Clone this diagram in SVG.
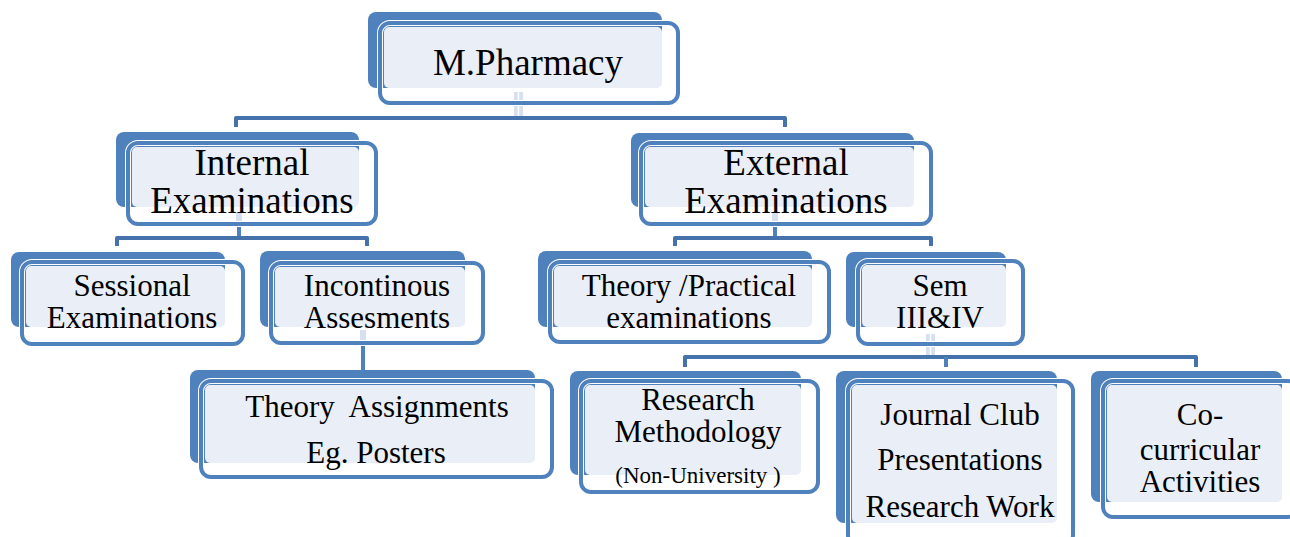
<svg xmlns="http://www.w3.org/2000/svg" width="1290" height="537" viewBox="0 0 1290 537">
  <style>
    .back { fill: #4F81BD; }
    .face { fill: #EAEFF7; }
    .halo { fill: none; stroke: #FFFFFF; stroke-width: 6; }
    .edge { fill: none; stroke: #4F81BD; stroke-width: 4; }
    .bus { fill: none; stroke: #4672AC; stroke-width: 4; stroke-linejoin: round; }
    .stem { fill: none; stroke: #4F81BD; stroke-width: 4; }
    .pale { fill: #D6E0EE; }
    .gap { stroke: #FFFFFF; stroke-width: 1.5; }
    text { font-family: "Liberation Serif", "Times New Roman", serif; fill: #000000; text-anchor: middle; }
    .t1 { font-size: 37px; }
    .t2 { font-size: 31px; }
    .t3 { font-size: 23px; }
  </style>

  <!-- connectors -->
  <g id="connectors">
    <!-- M.Pharmacy to level 1 -->
    <rect class="pale" x="514" y="92" width="9" height="28"/>
    <line class="gap" x1="518.5" y1="92" x2="518.5" y2="120"/>
    <path class="bus" d="M236,127 V118 H785 V127"/>
    <!-- Internal Examinations -->
    <rect class="pale" x="236" y="212" width="6" height="13"/>
    <line class="stem" x1="239" y1="225" x2="239" y2="238"/>
    <path class="bus" d="M117,246 V238 H367 V246"/>
    <!-- External Examinations -->
    <rect class="pale" x="772" y="212" width="6" height="13"/>
    <line class="stem" x1="775" y1="225" x2="775" y2="238"/>
    <path class="bus" d="M675,246 V238 H931 V246"/>
    <!-- Incontinous Assesments -->
    <rect class="pale" x="360" y="330" width="6" height="14"/>
    <line class="stem" x1="363" y1="344" x2="363" y2="371"/>
    <!-- Sem III&IV -->
    <rect class="pale" x="926" y="334" width="9" height="25"/>
    <line class="gap" x1="930.5" y1="334" x2="930.5" y2="359"/>
    <path class="bus" d="M685,367 V357 H1196 V367"/>
    <line class="stem" x1="946" y1="357" x2="946" y2="367"/>
  </g>

  <!-- level 0 -->
  <g id="m-pharmacy">
    <rect class="back" x="368" y="12" width="294" height="76" rx="8"/>
    <rect class="face" x="384" y="27" width="278" height="61" rx="5"/>
    <rect class="halo" x="380" y="23" width="298" height="80" rx="10"/>
    <rect class="edge" x="380" y="23" width="298" height="80" rx="10"/>
    <text class="t1" x="528" y="75">M.Pharmacy</text>
  </g>

  <!-- level 1 -->
  <g id="internal-examinations">
    <rect class="back" x="116" y="132" width="243" height="75" rx="8"/>
    <rect class="face" x="132" y="147" width="227" height="60" rx="5"/>
    <rect class="halo" x="128" y="143" width="248" height="81" rx="10"/>
    <rect class="edge" x="128" y="143" width="248" height="81" rx="10"/>
    <text class="t1" x="252" y="175">Internal</text>
    <text class="t1" x="252" y="213">Examinations</text>
  </g>

  <g id="external-examinations">
    <rect class="back" x="631" y="133" width="283" height="74" rx="8"/>
    <rect class="face" x="645" y="147" width="269" height="60" rx="5"/>
    <rect class="halo" x="641" y="143" width="290" height="81" rx="10"/>
    <rect class="edge" x="641" y="143" width="290" height="81" rx="10"/>
    <text class="t1" x="786" y="175">External</text>
    <text class="t1" x="786" y="213">Examinations</text>
  </g>

  <!-- level 2 -->
  <g id="sessional-examinations">
    <rect class="back" x="11" y="252" width="214" height="75" rx="8"/>
    <rect class="face" x="26" y="266" width="199" height="61" rx="5"/>
    <rect class="halo" x="22" y="262" width="221" height="82" rx="10"/>
    <rect class="edge" x="22" y="262" width="221" height="82" rx="10"/>
    <text class="t2" x="132" y="296">Sessional</text>
    <text class="t2" x="132" y="328">Examinations</text>
  </g>

  <g id="incontinous-assesments">
    <rect class="back" x="260" y="251" width="205" height="76" rx="8"/>
    <rect class="face" x="275" y="267" width="190" height="60" rx="5"/>
    <rect class="halo" x="271" y="263" width="212" height="80" rx="10"/>
    <rect class="edge" x="271" y="263" width="212" height="80" rx="10"/>
    <text class="t2" x="377" y="296">Incontinous</text>
    <text class="t2" x="377" y="328">Assesments</text>
  </g>

  <g id="theory-practical">
    <rect class="back" x="538" y="251" width="274" height="76" rx="8"/>
    <rect class="face" x="554" y="266" width="258" height="61" rx="5"/>
    <rect class="halo" x="550" y="262" width="279" height="80" rx="10"/>
    <rect class="edge" x="550" y="262" width="279" height="80" rx="10"/>
    <text class="t2" x="689" y="296">Theory /Practical</text>
    <text class="t2" x="689" y="328">examinations</text>
  </g>

  <g id="sem-3-4">
    <rect class="back" x="846" y="252" width="160" height="75" rx="8"/>
    <rect class="face" x="862" y="265" width="144" height="62" rx="5"/>
    <rect class="halo" x="858" y="261" width="165" height="83" rx="10"/>
    <rect class="edge" x="858" y="261" width="165" height="83" rx="10"/>
    <text class="t2" x="940" y="296">Sem</text>
    <text class="t2" x="940" y="328">III&amp;IV</text>
  </g>

  <!-- level 3 -->
  <g id="theory-assignments">
    <rect class="back" x="190" y="370" width="345" height="93" rx="8"/>
    <rect class="face" x="205" y="385" width="330" height="78" rx="5"/>
    <rect class="halo" x="201" y="381" width="351" height="96" rx="10"/>
    <rect class="edge" x="201" y="381" width="351" height="96" rx="10"/>
    <text class="t2" x="377" y="417">Theory&#160; Assignments</text>
    <text class="t2" x="376" y="463">Eg. Posters</text>
  </g>

  <g id="research-methodology">
    <rect class="back" x="570" y="371" width="231" height="104" rx="8"/>
    <rect class="face" x="585" y="385" width="216" height="90" rx="5"/>
    <rect class="halo" x="581" y="381" width="237" height="111" rx="10"/>
    <rect class="edge" x="581" y="381" width="237" height="111" rx="10"/>
    <text class="t2" x="698" y="410">Research</text>
    <text class="t2" x="698" y="442">Methodology</text>
    <text class="t3" x="698" y="483">(Non-University )</text>
  </g>

  <g id="journal-club">
    <rect class="back" x="836" y="371" width="221" height="152" rx="8"/>
    <rect class="face" x="852" y="385" width="205" height="138" rx="5"/>
    <rect class="halo" x="848" y="381" width="225" height="164" rx="10"/>
    <rect class="edge" x="848" y="381" width="225" height="164" rx="10"/>
    <text class="t2" x="960" y="425">Journal Club</text>
    <text class="t2" x="960" y="470">Presentations</text>
    <text class="t2" x="960" y="517">Research Work</text>
  </g>

  <g id="co-curricular">
    <rect class="back" x="1091" y="371" width="191" height="131" rx="8"/>
    <rect class="face" x="1107" y="385" width="175" height="117" rx="5"/>
    <rect class="halo" x="1103" y="381" width="195" height="136" rx="10"/>
    <rect class="edge" x="1103" y="381" width="195" height="136" rx="10"/>
    <text class="t2" x="1200" y="425">Co-</text>
    <text class="t2" x="1200" y="460">curricular</text>
    <text class="t2" x="1200" y="492">Activities</text>
  </g>
</svg>
